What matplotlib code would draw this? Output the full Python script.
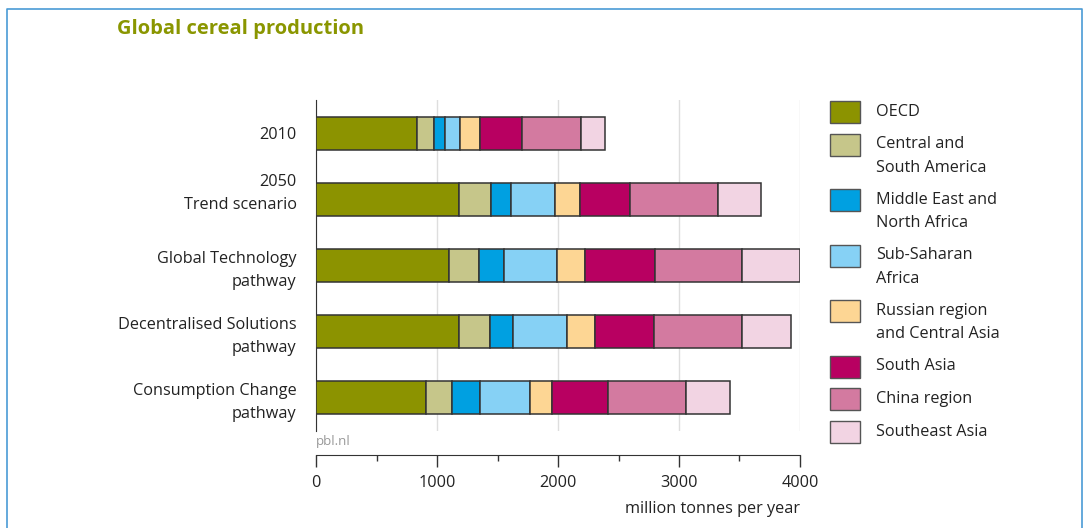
import matplotlib.pyplot as plt
from matplotlib.patches import Rectangle
import numpy as np

plt.rcParams['font.family'] = ['Open Sans', 'DejaVu Sans']

# ---- data (million tonnes per year) ----
scenarios = ["2010", "2050\nTrend scenario\n", "Global Technology\npathway",
             "Decentralised Solutions\npathway", "Consumption Change\npathway"]
regions = ["OECD", "Central and\nSouth America", "Middle East and\nNorth Africa",
           "Sub-Saharan\nAfrica", "Russian region\nand Central Asia", "South Asia",
           "China region", "Southeast Asia"]
colors = ["#8c9300", "#c6c68a", "#00a0e1", "#86d1f5", "#fdd694", "#b80061",
          "#d37aa0", "#f2d4e3"]

oecd = [832, 1185, 1097, 1179, 906]
central_south_america = [143, 262, 253, 261, 220]
middle_east_north_africa = [94, 168, 207, 185, 229]
sub_saharan_africa = [121, 361, 433, 449, 411]
russia_central_asia = [168, 204, 234, 234, 187]
south_asia = [347, 418, 581, 488, 463]
china_region = [482, 727, 714, 723, 639]
southeast_asia = [203, 353, 484, 410, 365]

series = [oecd, central_south_america, middle_east_north_africa, sub_saharan_africa,
          russia_central_asia, south_asia, china_region, southeast_asia]

FS = 11.7
W, H = 1089, 528
fig = plt.figure(figsize=(W / 100, H / 100), dpi=100)
ax = fig.add_axes([316 / W, 1 - 431 / H, (800 - 316) / W, (431 - 100) / H])

y = np.arange(len(scenarios))
left = np.zeros(len(scenarios))
for vals, col in zip(series, colors):
    ax.barh(y, vals, left=left, height=0.5, color=col, edgecolor="#333333",
            linewidth=1.1, zorder=3)
    left += np.array(vals)

ax.set_xlim(0, 4000)
ax.set_ylim(4.515, -0.505)
ax.set_yticks(y)
ax.set_yticklabels(scenarios, fontsize=FS, color="#222222", linespacing=1.6)
ax.tick_params(axis="y", length=0, pad=14)

ax.set_xticks([0, 1000, 2000, 3000, 4000])
ax.set_xticks(np.arange(500, 4000, 1000), minor=True)
ax.tick_params(axis="x", which="major", length=8.6, width=1, color="#333333",
               labelsize=FS, labelcolor="#222222", pad=6)
ax.tick_params(axis="x", which="minor", length=4.5, width=1, color="#333333")
ax.xaxis.grid(True, color="#dedede", linewidth=1)
ax.set_axisbelow(True)

for s in ["top", "right"]:
    ax.spines[s].set_visible(False)
ax.spines["left"].set_color("#333333")
ax.spines["bottom"].set_color("#333333")
ax.spines["bottom"].set_position(("outward", 17.3))

# ---- overlay in pixel coordinates ----
ov = fig.add_axes([0, 0, 1, 1], facecolor="none")
ov.set_xlim(0, W)
ov.set_ylim(H, 0)
ov.axis("off")

ov.plot([7, 7, 1082, 1082], [H, 9, 9, H], color="#4a9bd6", linewidth=1.2)
ov.text(117, 29, "Global cereal production", fontsize=14.5, fontweight="bold",
        color="#8a9600", va="center", ha="left")
ov.text(316, 441, "pbl.nl", fontsize=9.5, color="#999999", va="center", ha="left")
ov.text(800, 509, "million tonnes per year", fontsize=FS, color="#222222",
        va="center", ha="right")

# legend
cy = 112
line_h = 23
for lab, col in zip(regions, colors):
    ov.add_patch(Rectangle((830, cy - 11), 30, 22, facecolor=col,
                           edgecolor="#555555", linewidth=1))
    n = lab.count("\n") + 1
    ov.text(876, cy + (n - 1) * line_h / 2, lab, fontsize=FS, color="#222222",
            va="center", ha="left", linespacing=1.6)
    cy += n * line_h + 9.5

fig.savefig("out.png", dpi=100)
